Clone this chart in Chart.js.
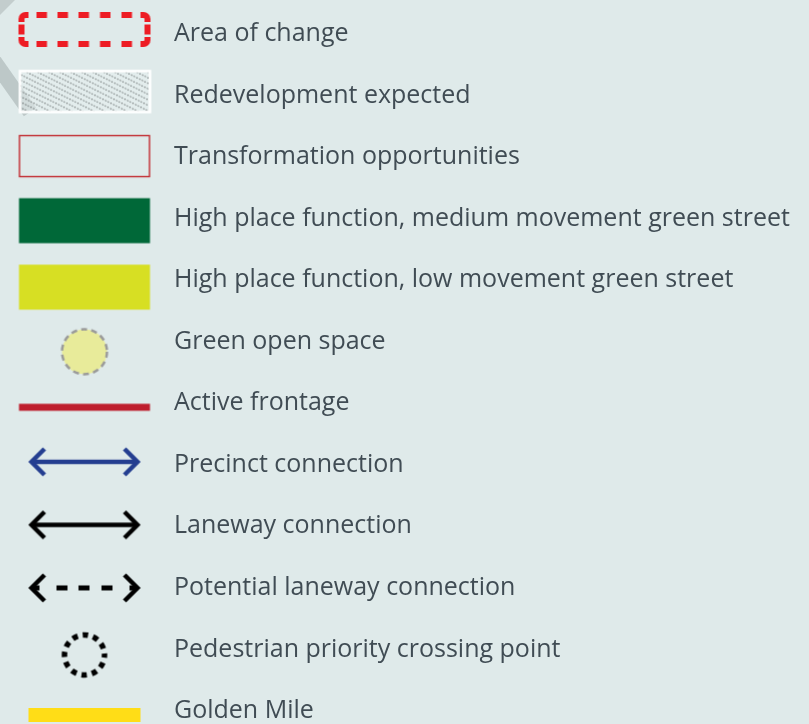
<!DOCTYPE html>
<html>
<head>
<meta charset="utf-8">
<script src="https://cdn.jsdelivr.net/npm/chart.js@4.4.1/dist/chart.umd.min.js"></script>
<style>
  html, body { margin: 0; padding: 0; background: #dfeaea; }
  #wrap { width: 809px; height: 724px; }
</style>
</head>
<body>
<div id="wrap"><canvas id="legendChart"></canvas></div>
<script>
// legend rows, top to bottom
const labels = [
    'Area of change',
    'Redevelopment expected',
    'Transformation opportunities',
    'High place function, medium movement green street',
    'High place function, low movement green street',
    'Green open space',
    'Active frontage',
    'Precinct connection',
    'Laneway connection',
    'Potential laneway connection',
    'Pedestrian priority crossing point',
    'Golden Mile'
];
const keyTypes = [
    'dashedBox', 'hatchBox', 'outlineBox', 'greenMedium', 'greenLow', 'openSpace',
    'frontage', 'precinct', 'laneway', 'potentialLaneway', 'crossing', 'goldenMile'
];

// small vertical nudge of each key inside its row
const keyNudge = {
    dashedBox: -4.5, hatchBox: -4, outlineBox: -1, greenMedium: 2, greenLow: 7, openSpace: 10,
    frontage: 4, precinct: -3, laneway: -1.5, potentialLaneway: 0, crossing: 5.5, goldenMile: 4
};

// --- key symbol drawing ---
function arrow(ctx, color, dashed) {
    ctx.strokeStyle = color;
    ctx.lineWidth = 4.5;
    ctx.lineCap = 'butt';
    ctx.lineJoin = 'miter';
    ctx.beginPath();
    ctx.moveTo(-40, -13); ctx.lineTo(-53, 0); ctx.lineTo(-40, 13);
    ctx.moveTo(40, -13); ctx.lineTo(53, 0); ctx.lineTo(40, 13);
    ctx.stroke();
    ctx.beginPath();
    if (dashed) {
        ctx.lineWidth = 5;
        [[-51, -45], [-28, -17], [-6, 5], [17, 28], [45, 51]].forEach(d => { ctx.moveTo(d[0], 0); ctx.lineTo(d[1], 0); });
    } else {
        ctx.moveTo(-52, 0); ctx.lineTo(52, 0);
    }
    ctx.stroke();
}

function dashedBox(ctx) {
    const l = -63, r = 63, t = -14.5, b = 14.5, rad = 4;
    ctx.strokeStyle = '#ed1c24';
    ctx.lineWidth = 6;
    ctx.lineCap = 'butt';
    // corner pieces
    ctx.beginPath();
    ctx.moveTo(l, t + rad + 3); ctx.arcTo(l, t, l + rad + 3, t, rad); ctx.lineTo(l + rad + 3, t);
    ctx.moveTo(r - rad - 3, t); ctx.arcTo(r, t, r, t + rad + 3, rad); ctx.lineTo(r, t + rad + 3);
    ctx.moveTo(r, b - rad - 3); ctx.arcTo(r, b, r - rad - 3, b, rad); ctx.lineTo(r - rad - 3, b);
    ctx.moveTo(l + rad + 3, b); ctx.arcTo(l, b, l, b - rad - 3, rad); ctx.lineTo(l, b - rad - 3);
    ctx.stroke();
    // straight dashes
    ctx.beginPath();
    [-48, -27, -6, 15.5, 37].forEach(x => {
        ctx.moveTo(x, t); ctx.lineTo(x + 10.5, t);
        ctx.moveTo(x, b); ctx.lineTo(x + 10.5, b);
    });
    ctx.moveTo(l, -5); ctx.lineTo(l, 5);
    ctx.moveTo(r, -5); ctx.lineTo(r, 5);
    ctx.stroke();
}

function makeKey(type) {
    const c = document.createElement('canvas');
    c.width = 140; c.height = 80;
    const ctx = c.getContext('2d');
    ctx.translate(70, 40 + (keyNudge[type] || 0));
    switch (type) {
        case 'dashedBox':
            dashedBox(ctx);
            break;
        case 'hatchBox':
            ctx.fillStyle = 'rgba(232,240,240,0.5)';
            ctx.fillRect(-66, -21.5, 132, 43);
            ctx.save();
            ctx.beginPath();
            ctx.rect(-64, -19.5, 128, 39);
            ctx.clip();
            ctx.strokeStyle = '#1e2424';
            ctx.lineWidth = 1;
            ctx.setLineDash([1, 2]);
            for (let k = -140; k < 80; k += 11) {
                ctx.beginPath();
                ctx.moveTo(k, -22);
                ctx.lineTo(k + 88, 22);
                ctx.stroke();
            }
            ctx.restore();
            ctx.strokeStyle = '#ffffff';
            ctx.lineWidth = 2.5;
            ctx.strokeRect(-64.5, -20.5, 130, 41);
            break;
        case 'outlineBox':
            ctx.strokeStyle = '#c1272d';
            ctx.lineWidth = 1.4;
            ctx.strokeRect(-65, -20.5, 130, 41);
            break;
        case 'greenMedium':
            ctx.fillStyle = '#006838';
            ctx.fillRect(-65.5, -22.5, 131, 45);
            break;
        case 'greenLow':
            ctx.fillStyle = '#d7df23';
            ctx.fillRect(-65.5, -22.5, 131, 45);
            break;
        case 'openSpace':
            ctx.beginPath();
            ctx.arc(0, 0, 22.5, 0, Math.PI * 2);
            ctx.fillStyle = '#e8eb9a';
            ctx.fill();
            ctx.strokeStyle = '#9a9a9a';
            ctx.lineWidth = 2.5;
            ctx.setLineDash([6, 4.2]);
            ctx.stroke();
            break;
        case 'frontage':
            ctx.fillStyle = '#be1e2d';
            ctx.fillRect(-65.5, -3.5, 131, 7);
            break;
        case 'precinct':
            arrow(ctx, '#243e90', false);
            break;
        case 'laneway':
            arrow(ctx, '#000000', false);
            break;
        case 'potentialLaneway':
            arrow(ctx, '#000000', true);
            break;
        case 'crossing':
            ctx.strokeStyle = '#000000';
            ctx.lineWidth = 5.5;
            ctx.beginPath();
            ctx.arc(0, 0, 20, 0, Math.PI * 2);
            ctx.setLineDash([5.5, 5]);
            ctx.lineDashOffset = 2.7;
            ctx.stroke();
            break;
        case 'goldenMile':
            ctx.fillStyle = '#ffdd17';
            ctx.fillRect(-56, -7, 112, 14);
            break;
    }
    return c;
}

const keyImages = keyTypes.map(makeKey);

// grey map fragments peeking in on the left edge
const backdrop = {
    id: 'backdrop',
    beforeDatasetsDraw(chart) {
        const ctx = chart.ctx;
        ctx.save();
        ctx.fillStyle = '#c3cdcd';
        ctx.beginPath();
        ctx.moveTo(0, 0); ctx.lineTo(15, 0); ctx.lineTo(0, 15);
        ctx.fill();
        ctx.strokeStyle = '#bdc8c8';
        ctx.lineWidth = 15;
        ctx.beginPath();
        ctx.moveTo(-8, 58); ctx.lineTo(30, 112);
        ctx.stroke();
        ctx.restore();
    }
};

new Chart(document.getElementById('legendChart'), {
    type: 'scatter',
    data: {
        labels: labels,
        datasets: [{
            data: labels.map(l => ({ x: 0.5, y: l })),
            pointStyle: keyImages,
            pointRadius: 1,
            clip: false
        }]
    },
    options: {
        responsive: true,
        maintainAspectRatio: false,
        animation: false,
        events: [],
        layout: { padding: { left: 3, right: 0, top: 34, bottom: 13 } },
        plugins: { legend: { display: false }, tooltip: { enabled: false } },
        scales: {
            x: { type: 'linear', min: 0, max: 1, display: false },
            y: {
                type: 'category',
                position: 'right',
                offset: false,
                grid: { display: false, drawTicks: false },
                border: { display: false },
                afterFit: (scale) => {
                    scale.width = 645;
                    scale.paddingTop = 0;
                    scale.paddingBottom = 0;
                },
                ticks: {
                    padding: 10,
                    color: '#404c54',
                    font: { family: 'Open Sans', size: 25, weight: '400' }
                }
            }
        }
    },
    plugins: [backdrop]
});
</script>
</body>
</html>
